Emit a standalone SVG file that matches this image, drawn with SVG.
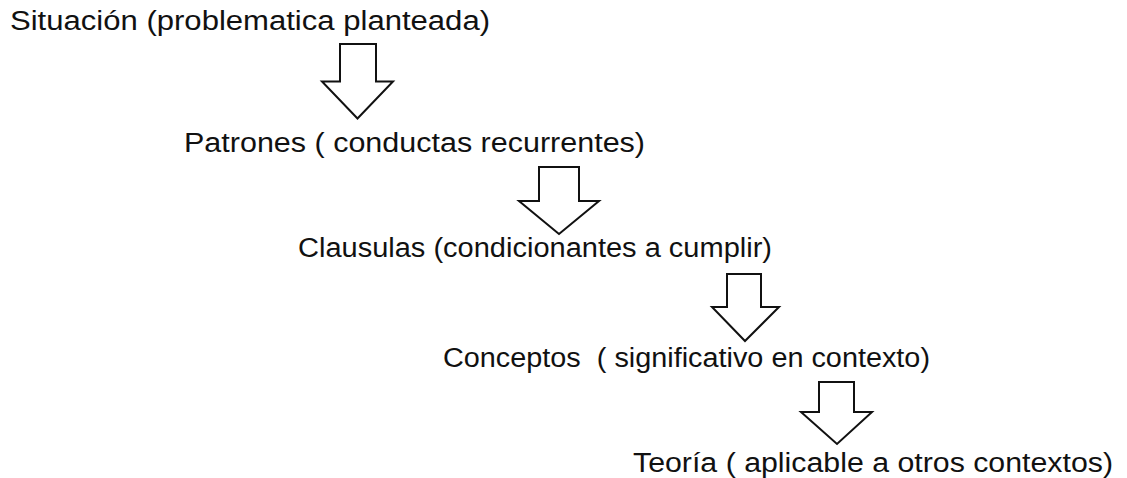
<svg xmlns="http://www.w3.org/2000/svg" width="1127" height="478" viewBox="0 0 1127 478">
<style>
.t{font-family:"Liberation Sans",Arial,sans-serif;font-size:27px;fill:#111;white-space:pre}
.a{fill:#fff;stroke:#111;stroke-width:2;stroke-linejoin:miter}
</style>
<rect width="1127" height="478" fill="#fff"/>
<g id="n1"><text class="t" x="10" y="29.5" textLength="480" lengthAdjust="spacingAndGlyphs">Situación (problematica planteada)</text></g>
<g id="n2"><text class="t" x="184" y="151.5" textLength="461" lengthAdjust="spacingAndGlyphs">Patrones ( conductas recurrentes)</text></g>
<g id="n3"><text class="t" x="298" y="256.5" textLength="474" lengthAdjust="spacingAndGlyphs">Clausulas (condicionantes a cumplir)</text></g>
<g id="n4"><text class="t" x="443" y="367" textLength="487" lengthAdjust="spacingAndGlyphs" xml:space="preserve">Conceptos  ( significativo en contexto)</text></g>
<g id="n5"><text class="t" x="633" y="472" textLength="480" lengthAdjust="spacingAndGlyphs">Teoría ( aplicable a otros contextos)</text></g>
<g id="connectors">
<path class="a" d="M340,44 H376 V81.5 H393 L357.5,118.5 L322,81.5 H340 Z"/>
<path class="a" d="M539,167 H579 V201 H599 L559,234 L519,201 H539 Z"/>
<path class="a" d="M727,274 H761 V307 H779 L745,341 L712,307 H727 Z"/>
<path class="a" d="M819,382 H854 V412 H872 L837,444 L801,412 H819 Z"/>
</g>
</svg>
